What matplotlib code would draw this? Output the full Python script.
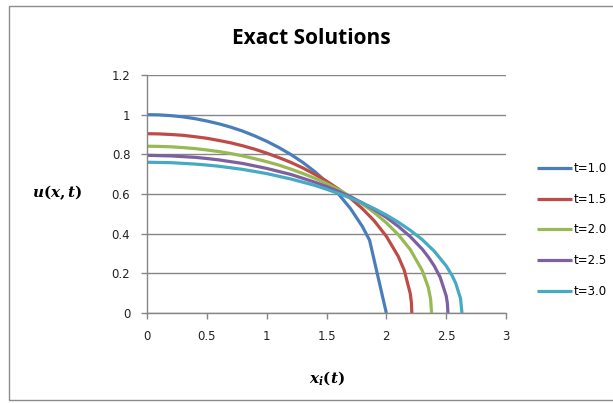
import matplotlib

matplotlib.use("Agg")

import matplotlib.pyplot as plt
from matplotlib.patches import Rectangle

# profile samples u(x, t) for each time level
x_t10 = [0.0, 0.1, 0.2, 0.3, 0.4, 0.5, 0.6, 0.7, 0.8, 0.9, 1.0, 1.1, 1.2, 1.3, 1.4,
         1.5, 1.6, 1.7, 1.8, 1.86, 2.0]
u_t10 = [1.000, 0.999, 0.995, 0.989, 0.980, 0.968, 0.954, 0.937, 0.917, 0.893, 0.866,
         0.835, 0.800, 0.760, 0.714, 0.661, 0.600, 0.527, 0.436, 0.367, 0.0]

x_t15 = [0.0, 0.1, 0.2, 0.3, 0.4, 0.5, 0.6, 0.7, 0.8, 0.9, 1.0, 1.1, 1.2, 1.3, 1.4,
         1.5, 1.6, 1.7, 1.8, 1.9, 2.0, 2.1, 2.15, 2.2, 2.21, 2.213]
u_t15 = [0.904, 0.903, 0.900, 0.896, 0.889, 0.881, 0.870, 0.858, 0.843, 0.826, 0.806,
         0.784, 0.760, 0.732, 0.700, 0.665, 0.625, 0.579, 0.526, 0.464, 0.387, 0.285,
         0.215, 0.098, 0.05, 0.0]

x_t20 = [0.0, 0.1, 0.2, 0.3, 0.4, 0.5, 0.6, 0.7, 0.8, 0.9, 1.0, 1.1, 1.2, 1.3, 1.4,
         1.5, 1.6, 1.7, 1.8, 1.9, 2.0, 2.1, 2.2, 2.3, 2.35, 2.37, 2.378]
u_t20 = [0.841, 0.840, 0.838, 0.834, 0.829, 0.822, 0.814, 0.804, 0.792, 0.778, 0.763,
         0.746, 0.726, 0.704, 0.680, 0.653, 0.622, 0.588, 0.550, 0.506, 0.455, 0.395,
         0.320, 0.214, 0.130, 0.071, 0.0]

x_t25 = [0.0, 0.2, 0.4, 0.5, 0.6, 0.8, 1.0, 1.2, 1.4, 1.5, 1.6, 1.7, 1.8, 1.9, 2.0,
         2.1, 2.2, 2.3, 2.35, 2.4, 2.45, 2.5, 2.51, 2.515]
u_t25 = [0.795, 0.792, 0.785, 0.779, 0.772, 0.754, 0.729, 0.699, 0.660, 0.638, 0.613,
         0.586, 0.555, 0.521, 0.482, 0.437, 0.385, 0.322, 0.283, 0.238, 0.180, 0.087,
         0.05, 0.0]

x_t30 = [0.0, 0.2, 0.4, 0.5, 0.6, 0.8, 1.0, 1.2, 1.4, 1.5, 1.6, 1.7, 1.8, 1.9, 2.0,
         2.1, 2.2, 2.3, 2.4, 2.5, 2.55, 2.58, 2.62, 2.632]
u_t30 = [0.760, 0.758, 0.751, 0.746, 0.740, 0.724, 0.703, 0.676, 0.644, 0.624, 0.603,
         0.580, 0.554, 0.526, 0.494, 0.458, 0.417, 0.370, 0.312, 0.238, 0.188, 0.150,
         0.073, 0.0]

series = [
    ("t=1.0", x_t10, u_t10, "#4A7EBB"),
    ("t=1.5", x_t15, u_t15, "#BE4B48"),
    ("t=2.0", x_t20, u_t20, "#98B954"),
    ("t=2.5", x_t25, u_t25, "#7D60A0"),
    ("t=3.0", x_t30, u_t30, "#46AAC5"),
]

x_ticks = [0, 0.5, 1, 1.5, 2, 2.5, 3]
x_tick_labels = ["0", "0.5", "1", "1.5", "2", "2.5", "3"]
y_ticks = [0, 0.2, 0.4, 0.6, 0.8, 1.0, 1.2]
y_tick_labels = ["0", "0.2", "0.4", "0.6", "0.8", "1", "1.2"]

plt.rcParams["mathtext.fontset"] = "custom"
plt.rcParams["mathtext.it"] = "DejaVu Serif:italic:bold"
plt.rcParams["mathtext.rm"] = "DejaVu Serif:bold"

fig = plt.figure(figsize=(6.13, 4.03), dpi=100)
fig.patch.set_facecolor("white")
ax = fig.add_axes([147 / 613, 1 - 313 / 403, 359 / 613, 238 / 403])

for label, xs, us, color in series:
    ax.plot(xs, us, color=color, lw=2.3, label=label,
            solid_capstyle="butt", solid_joinstyle="round")

ax.set_xlim(0, 3)
ax.set_ylim(0, 1.2)
ax.set_xticks(x_ticks)
ax.set_xticklabels(x_tick_labels)
ax.set_yticks(y_ticks)
ax.set_yticklabels(y_tick_labels)
ax.tick_params(axis="both", direction="out", length=4, width=1, color="#868686",
               labelsize=8.5, labelcolor="#222222", labelfontfamily="DejaVu Sans")
ax.tick_params(axis="x", pad=8)
ax.tick_params(axis="y", pad=8)

ax.grid(axis="y", color="#868686", lw=1)
ax.set_axisbelow(True)
for side in ["top", "right"]:
    ax.spines[side].set_visible(False)
for side in ["left", "bottom"]:
    ax.spines[side].set_color("#868686")
    ax.spines[side].set_linewidth(1)

fig.text(311 / 613, 1 - 38 / 403, "Exact Solutions", ha="center", va="center",
         fontsize=15, fontweight="bold", family="Open Sans")
fig.text(57 / 613, 1 - 193 / 403, r"$u(x,t)$", ha="center", va="center", fontsize=11)
fig.text(327 / 613, 1 - 378 / 403, r"$x_i(t)$", ha="center", va="center", fontsize=11)

ax.legend(loc="center left", bbox_to_anchor=(531 / 613, 1 - 230 / 403),
          bbox_transform=fig.transFigure, frameon=False,
          handlelength=3.0, handletextpad=0.1, labelspacing=1.5, borderpad=0,
          prop={"family": "DejaVu Sans", "size": 8.5})

fig.add_artist(Rectangle((9 / 613, 1 - 400 / 403), 1.2, 394 / 403,
                         transform=fig.transFigure, fill=False,
                         edgecolor="#8C8C8C", lw=1))

fig.savefig("out.png", dpi=100, facecolor="white")
